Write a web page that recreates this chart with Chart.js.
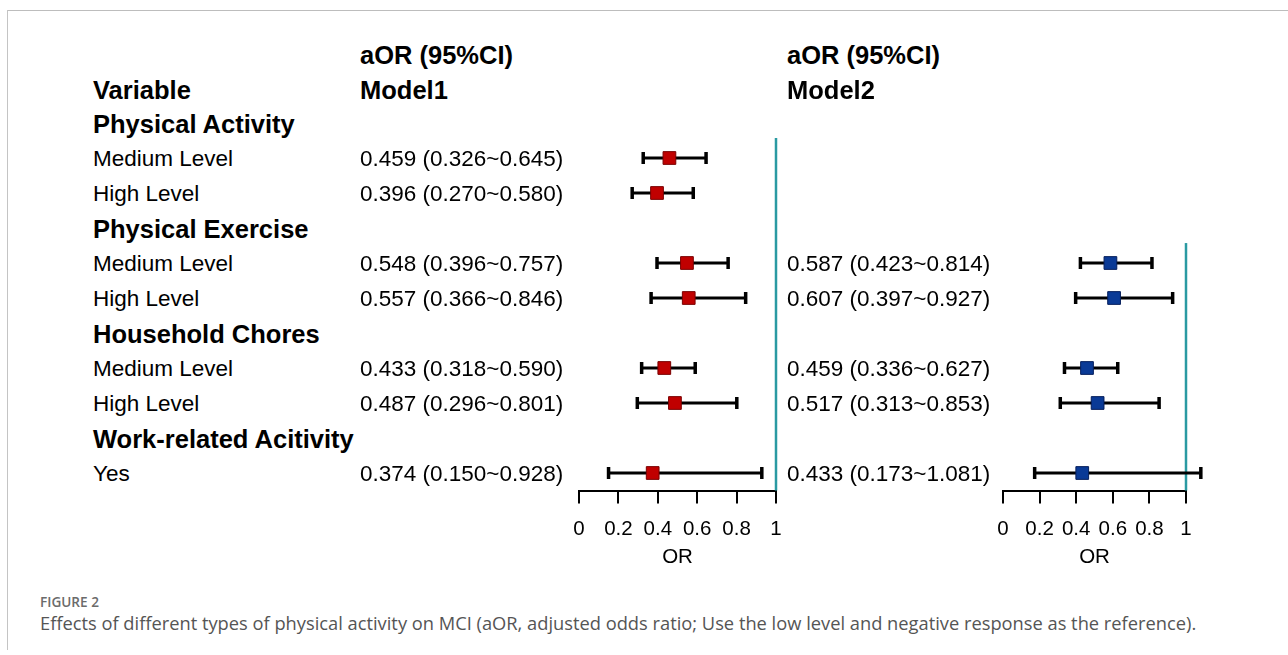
<!DOCTYPE html>
<html><head><meta charset="utf-8">
<script src="https://cdn.jsdelivr.net/npm/chart.js@4.4.0/dist/chart.umd.min.js"></script>
<style>
html,body{margin:0;padding:0;background:#fff;}
#page{position:relative;width:1288px;height:655px;overflow:hidden;background:#fff;}
.frameTop{position:absolute;left:7px;top:10px;width:1281px;height:1px;background:#bdbdbd;}
.frameLeft{position:absolute;left:7px;top:10px;width:1px;height:640px;background:#c4c4c4;}
.t{position:absolute;font-family:"Liberation Sans",Arial,sans-serif;color:#000;white-space:nowrap;line-height:1;transform:translateY(-50%);}
.b{font-weight:bold;font-size:25.5px;}
.r{font-size:22.5px;}
.cv{position:absolute;}
#fig{position:absolute;left:40px;top:602px;transform:translateY(-50%);font-family:"Open Sans",sans-serif;font-weight:600;font-size:13px;color:#6b6b6b;white-space:nowrap;line-height:1;}
#cap{position:absolute;left:40px;top:623px;transform:translateY(-50%);font-family:"Open Sans",sans-serif;font-weight:400;font-size:17px;color:#555;white-space:nowrap;line-height:1;}
</style></head>
<body><div id="page">
<div class="frameTop"></div><div class="frameLeft"></div>
<canvas id="c1" class="cv" width="260" height="480" style="left:540px;top:100px;width:260px;height:480px"></canvas>
<canvas id="c2" class="cv" width="328" height="480" style="left:960px;top:100px;width:328px;height:480px"></canvas>
<div id="fig">FIGURE 2</div>
<div id="cap">Effects of different types of physical activity on MCI (aOR, adjusted odds ratio; Use the low level and negative response as the reference).</div>
</div>
<script>
// ---- data ----
const rowLabels = ["Physical Activity","Medium Level","High Level","Physical Exercise","Medium Level","High Level","Household Chores","Medium Level","High Level","Work-related Acitivity","Yes"];
const isHeader  = [true,false,false,true,false,false,true,false,false,true,false];
const m1OR = [null,0.459,0.396,null,0.548,0.557,null,0.433,0.487,null,0.374];
const m1Lo = [null,0.326,0.270,null,0.396,0.366,null,0.318,0.296,null,0.150];
const m1Hi = [null,0.645,0.580,null,0.757,0.846,null,0.590,0.801,null,0.928];
const m2OR = [null,null,null,null,0.587,0.607,null,0.459,0.517,null,0.433];
const m2Lo = [null,null,null,null,0.423,0.397,null,0.336,0.313,null,0.173];
const m2Hi = [null,null,null,null,0.814,0.927,null,0.627,0.853,null,1.081];
const xTicks = [0,0.2,0.4,0.6,0.8,1];
const xTickLabels = ["0","0.2","0.4","0.6","0.8","1"];

// ---- table text ----
const page = document.getElementById('page');
const ROW0 = 123, ROWH = 35;
function addText(txt, x, y, cls){
  const d = document.createElement('div');
  d.className = 't ' + cls; d.textContent = txt;
  d.style.left = x + 'px'; d.style.top = y + 'px';
  page.appendChild(d);
}
addText('aOR (95%CI)', 360, 56, 'b');
addText('Model1', 360, 91, 'b');
addText('aOR (95%CI)', 787, 56, 'b');
addText('Model2', 787, 91, 'b');
addText('Variable', 93, 91, 'b');
const fmt = v => v.toFixed(3);
rowLabels.forEach((lab,i)=>{
  const y = ROW0 + ROWH*i + (isHeader[i] ? 2 : 1);
  addText(lab, 93, y, isHeader[i] ? 'b' : 'r');
  if (m1OR[i] != null) addText(`${fmt(m1OR[i])} (${fmt(m1Lo[i])}~${fmt(m1Hi[i])})`, 360, y, 'r');
  if (m2OR[i] != null) addText(`${fmt(m2OR[i])} (${fmt(m2Lo[i])}~${fmt(m2Hi[i])})`, 787, y, 'r');
});

// fit caption widths
function fitWidth(id, target){
  const el = document.getElementById(id);
  const w = el.getBoundingClientRect().width;
  const fs = parseFloat(getComputedStyle(el).fontSize);
  el.style.fontSize = (fs * target / w) + 'px';
}
fitWidth('fig', 59);
fitWidth('cap', 1157);

// ---- charts ----
function makePlugin(lo, hi, refStart){
  return {
    id: 'forest',
    beforeDatasetsDraw(chart){
      const {ctx, chartArea} = chart;
      const x = chart.scales.x, y = chart.scales.y;
      ctx.save();
      const rx = x.getPixelForValue(1);
      ctx.strokeStyle = '#2a9aa2'; ctx.lineWidth = 2.5;
      ctx.beginPath(); ctx.moveTo(rx, y.getPixelForValue(refStart)); ctx.lineTo(rx, chartArea.bottom); ctx.stroke();
      ctx.strokeStyle = '#000';
      lo.forEach((l, i)=>{
        if (l == null) return;
        const py = y.getPixelForValue(i);
        const x1 = x.getPixelForValue(l), x2 = x.getPixelForValue(hi[i]);
        ctx.lineWidth = 3;
        ctx.beginPath(); ctx.moveTo(x1, py); ctx.lineTo(x2, py); ctx.stroke();
        ctx.lineWidth = 3.5;
        ctx.beginPath(); ctx.moveTo(x1, py-6); ctx.lineTo(x1, py+6); ctx.moveTo(x2, py-6); ctx.lineTo(x2, py+6); ctx.stroke();
      });
      ctx.restore();
    }
  };
}
function makeChart(id, or, lo, hi, fill, border, refStart, padL, padR){
  const pts = [];
  or.forEach((v,i)=>{ if (v != null) pts.push({x:v, y:i}); });
  return new Chart(document.getElementById(id), {
    type: 'scatter',
    data: { datasets: [{ data: pts, pointStyle: 'rect', pointRadius: 9, pointHoverRadius: 9,
      backgroundColor: fill, borderColor: border, borderWidth: 1, clip: false }] },
    options: {
      responsive: false, animation: false, devicePixelRatio: 1,
      layout: { padding: { left: padL, right: padR, top: 23, bottom: 0 } },
      plugins: { legend: {display:false}, tooltip: {enabled:false} },
      scales: {
        y: { type: 'linear', reverse: true, min: 0, max: 10.5, display: false },
        x: { type: 'linear', min: 0, max: 1,
          afterBuildTicks: s => { s.ticks = xTicks.map(v => ({value: v})); },
          afterFit: s => { s.height = 89.5; },
          border: { display: true, color: '#000', width: 2 },
          grid: { display: true, drawOnChartArea: false, drawTicks: true, tickLength: 13, color: '#000', lineWidth: 2 },
          ticks: { padding: 14, maxRotation: 0, autoSkip: false, color: '#000',
            callback: (v, idx) => xTickLabels[idx],
            font: { family: '"Liberation Sans", Arial, sans-serif', size: 20.5 } },
          title: { display: true, text: 'OR', color: '#000', padding: { top: 0, bottom: 10 },
            font: { family: '"Liberation Sans", Arial, sans-serif', size: 20.5 } }
        }
      }
    },
    plugins: [makePlugin(lo, hi, refStart)]
  });
}
makeChart('c1', m1OR, m1Lo, m1Hi, '#c00000', '#7a0000', 0.43, 39, 24);
makeChart('c2', m2OR, m2Lo, m2Hi, '#0a3a96', '#061f5c', 3.43, 43, 102);
</script>
</body></html>
